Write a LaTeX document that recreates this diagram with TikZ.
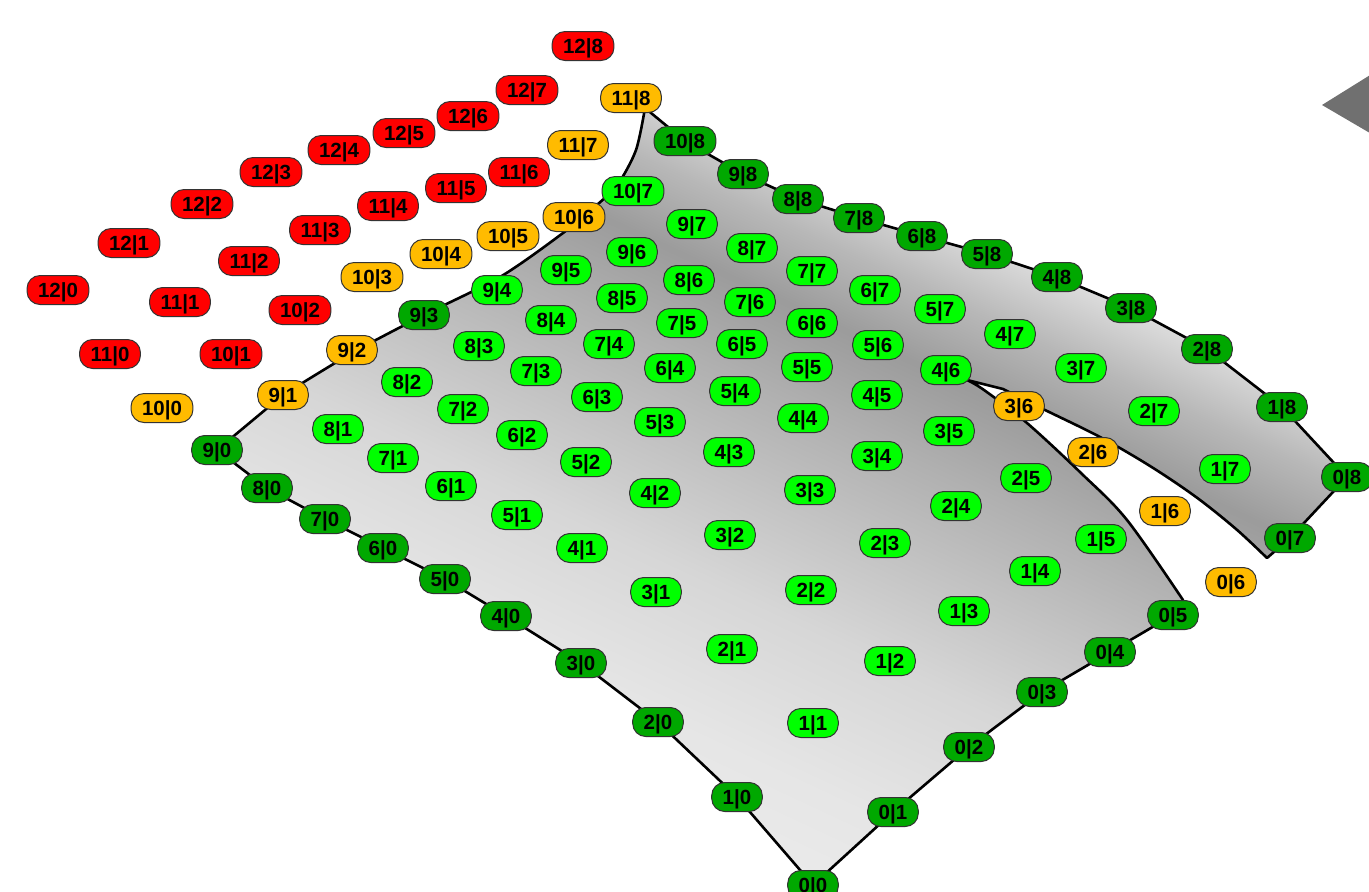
\documentclass[tikz,border=0pt]{standalone}
\usepackage{fontspec}
\setmainfont{Liberation Sans}
\usetikzlibrary{backgrounds}
\definecolor{cpred}{RGB}{255,0,0}
\definecolor{cporange}{RGB}{255,187,0}
\definecolor{cpdark}{RGB}{0,168,0}
\definecolor{cplight}{RGB}{0,255,0}
\definecolor{arrowgray}{RGB}{112,112,112}
\pgfdeclareverticalshading{surface}{100bp}{color(0bp)=(black!6); color(25bp)=(black!6); color(36bp)=(black!10); color(44bp)=(black!16); color(50bp)=(black!24); color(55bp)=(black!31); color(60bp)=(black!39); color(64bp)=(black!28); color(67.5bp)=(black!15); color(71bp)=(black!5); color(75bp)=(black!2); color(100bp)=(black!2)}

\begin{document}
\begin{tikzpicture}[x=1pt,y=-1pt,
    cp/.style={draw=black!80,line width=1pt,rounded corners=13pt,minimum height=29pt,inner xsep=11pt,inner ysep=0pt,text height=15pt,text depth=0pt,font=\fontsize{20.5}{20.5}\selectfont\bfseries},
    cpr/.style={cp,fill=cpred},
    cpo/.style={cp,fill=cporange},
    cpd/.style={cp,fill=cpdark},
    cpl/.style={cp,fill=cplight},
    rim/.style={draw=black,line width=2.6pt,line join=round}]
    \useasboundingbox (0,0) rectangle (1369,892);
    \fill [arrowgray] (1322,105) -- (1375,72) -- (1375,136) -- cycle;
    % row 12 and 11 outside
    \node [cpr] (n12-8) at (583,46) {12|8};
    \node [cpr] (n12-7) at (527,90) {12|7};
    \node [cpr] (n12-6) at (468,116) {12|6};
    \node [cpr] (n12-5) at (404,133) {12|5};
    \node [cpr] (n12-4) at (339,150) {12|4};
    \node [cpr] (n12-3) at (271,172) {12|3};
    \node [cpr] (n12-2) at (202,204) {12|2};
    \node [cpr] (n12-1) at (129,243) {12|1};
    \node [cpr] (n12-0) at (58,290) {12|0};
    \node [cpr] (n11-6) at (519,172) {11|6};
    \node [cpr] (n11-5) at (456,188) {11|5};
    \node [cpr] (n11-4) at (388,206) {11|4};
    \node [cpr] (n11-3) at (320,230) {11|3};
    \node [cpr] (n11-2) at (249,261) {11|2};
    \node [cpr] (n11-1) at (180,302) {11|1};
    \node [cpr] (n11-0) at (110,354) {11|0};
    \node [cpr] (n10-2) at (300,310) {10|2};
    \node [cpr] (n10-1) at (231,354) {10|1};
    % orange
    \node [cpo] (n11-8) at (631,98) {11|8};
    \node [cpo] (n11-7) at (578,145) {11|7};
    \node [cpo] (n10-6) at (574,217) {10|6};
    \node [cpo] (n10-5) at (508,236) {10|5};
    \node [cpo] (n10-4) at (441,254) {10|4};
    \node [cpo] (n10-3) at (372,277) {10|3};
    \node [cpo] (n10-0) at (162,408) {10|0};
    \node [cpo] (n9-2) at (352,350) {9|2};
    \node [cpo] (n9-1) at (283,395) {9|1};
    \node [cpo] (n3-6) at (1019,406) {3|6};
    \node [cpo] (n2-6) at (1093,452) {2|6};
    \node [cpo] (n1-6) at (1165,511) {1|6};
    \node [cpo] (n0-6) at (1231,582) {0|6};
    % border
    \node [cpd] (n10-8) at (685,141) {10|8};
    \node [cpd] (n9-8) at (743,174) {9|8};
    \node [cpd] (n8-8) at (798,199) {8|8};
    \node [cpd] (n7-8) at (859,218) {7|8};
    \node [cpd] (n6-8) at (922,236) {6|8};
    \node [cpd] (n5-8) at (987,254) {5|8};
    \node [cpd] (n4-8) at (1057,277) {4|8};
    \node [cpd] (n3-8) at (1131,308) {3|8};
    \node [cpd] (n2-8) at (1207,349) {2|8};
    \node [cpd] (n1-8) at (1282,407) {1|8};
    \node [cpd] (n0-8) at (1347,477) {0|8};
    \node [cpd] (n0-7) at (1290,538) {0|7};
    \node [cpd] (n9-3) at (424,315) {9|3};
    \node [cpd] (n9-0) at (217,450) {9|0};
    \node [cpd] (n8-0) at (267,488) {8|0};
    \node [cpd] (n7-0) at (325,519) {7|0};
    \node [cpd] (n6-0) at (383,548) {6|0};
    \node [cpd] (n5-0) at (445,579) {5|0};
    \node [cpd] (n4-0) at (506,616) {4|0};
    \node [cpd] (n3-0) at (581,663) {3|0};
    \node [cpd] (n2-0) at (658,722) {2|0};
    \node [cpd] (n1-0) at (737,797) {1|0};
    \node [cpd] (n0-0) at (813,885) {0|0};
    \node [cpd] (n0-1) at (893,812) {0|1};
    \node [cpd] (n0-2) at (969,747) {0|2};
    \node [cpd] (n0-3) at (1042,692) {0|3};
    \node [cpd] (n0-4) at (1110,652) {0|4};
    \node [cpd] (n0-5) at (1173,615) {0|5};
    % inner
    \node [cpl] (n10-7) at (633,191) {10|7};
    \node [cpl] (n9-7) at (692,224) {9|7};
    \node [cpl] (n9-6) at (632,252) {9|6};
    \node [cpl] (n9-5) at (566,270) {9|5};
    \node [cpl] (n9-4) at (497,290) {9|4};
    \node [cpl] (n8-7) at (752,248) {8|7};
    \node [cpl] (n8-6) at (689,280) {8|6};
    \node [cpl] (n8-5) at (622,298) {8|5};
    \node [cpl] (n8-4) at (551,320) {8|4};
    \node [cpl] (n8-3) at (479,346) {8|3};
    \node [cpl] (n8-2) at (407,382) {8|2};
    \node [cpl] (n8-1) at (338,429) {8|1};
    \node [cpl] (n7-7) at (812,271) {7|7};
    \node [cpl] (n7-6) at (750,302) {7|6};
    \node [cpl] (n7-5) at (682,323) {7|5};
    \node [cpl] (n7-4) at (609,344) {7|4};
    \node [cpl] (n7-3) at (536,371) {7|3};
    \node [cpl] (n7-2) at (463,409) {7|2};
    \node [cpl] (n7-1) at (393,458) {7|1};
    \node [cpl] (n6-7) at (875,290) {6|7};
    \node [cpl] (n6-6) at (812,323) {6|6};
    \node [cpl] (n6-5) at (742,344) {6|5};
    \node [cpl] (n6-4) at (670,368) {6|4};
    \node [cpl] (n6-3) at (597,397) {6|3};
    \node [cpl] (n6-2) at (522,435) {6|2};
    \node [cpl] (n6-1) at (451,486) {6|1};
    \node [cpl] (n5-7) at (940,309) {5|7};
    \node [cpl] (n5-6) at (878,345) {5|6};
    \node [cpl] (n5-5) at (807,367) {5|5};
    \node [cpl] (n5-4) at (735,391) {5|4};
    \node [cpl] (n5-3) at (660,422) {5|3};
    \node [cpl] (n5-2) at (586,462) {5|2};
    \node [cpl] (n5-1) at (517,515) {5|1};
    \node [cpl] (n4-7) at (1010,334) {4|7};
    \node [cpl] (n4-6) at (946,370) {4|6};
    \node [cpl] (n4-5) at (877,395) {4|5};
    \node [cpl] (n4-4) at (803,418) {4|4};
    \node [cpl] (n4-3) at (729,452) {4|3};
    \node [cpl] (n4-2) at (655,493) {4|2};
    \node [cpl] (n4-1) at (582,548) {4|1};
    \node [cpl] (n3-7) at (1081,368) {3|7};
    \node [cpl] (n3-5) at (949,431) {3|5};
    \node [cpl] (n3-4) at (877,456) {3|4};
    \node [cpl] (n3-3) at (810,490) {3|3};
    \node [cpl] (n3-2) at (730,535) {3|2};
    \node [cpl] (n3-1) at (656,592) {3|1};
    \node [cpl] (n2-7) at (1154,411) {2|7};
    \node [cpl] (n2-5) at (1026,478) {2|5};
    \node [cpl] (n2-4) at (956,506) {2|4};
    \node [cpl] (n2-3) at (885,543) {2|3};
    \node [cpl] (n2-2) at (811,590) {2|2};
    \node [cpl] (n2-1) at (732,649) {2|1};
    \node [cpl] (n1-7) at (1225,469) {1|7};
    \node [cpl] (n1-5) at (1101,539) {1|5};
    \node [cpl] (n1-4) at (1035,571) {1|4};
    \node [cpl] (n1-3) at (964,611) {1|3};
    \node [cpl] (n1-2) at (890,661) {1|2};
    \node [cpl] (n1-1) at (813,723) {1|1};
    % surface
    \begin{scope}[on background layer]
        \shadedraw [shading=surface,shading angle=-25,rim]
            (n0-0.center) -- (n0-1.center) -- (n0-2.center) -- (n0-3.center) -- (n0-4.center) -- (n0-5.center)
            -- plot [smooth,tension=0.55] coordinates {(1183,600) (1127,520) (1082,474) (1027,423) (984,390) (967,380)}
            -- plot [smooth,tension=0.55] coordinates {(1003,389) (1043,409) (1100,437) (1150,466) (1196,497) (1236,529) (1267,558)}
            -- (n0-7.center) -- (n0-8.center) -- (n1-8.center) -- (n2-8.center) -- (n3-8.center) -- (n4-8.center)
            -- (n5-8.center) -- (n6-8.center) -- (n7-8.center) -- (n8-8.center) -- (n9-8.center) -- (n10-8.center)
            -- plot [smooth,tension=0.5] coordinates {(645,108) (636,150) (618,184) (598,204) (563,233) (500,277) (424,315) (352,353) (283,395)}
            -- (n9-0.center) -- (n8-0.center) -- (n7-0.center) -- (n6-0.center) -- (n5-0.center) -- (n4-0.center)
            -- (n3-0.center) -- (n2-0.center) -- (n1-0.center) -- cycle;
    \end{scope}
\end{tikzpicture}
\end{document}
